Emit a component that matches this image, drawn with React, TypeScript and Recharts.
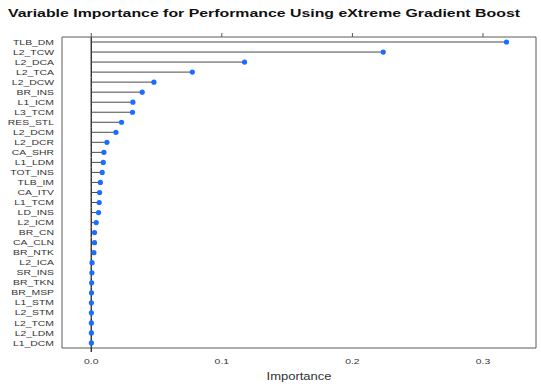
import React from 'react';
import { ComposedChart, Bar, XAxis, YAxis } from 'recharts';

// variable names, top to bottom
const variables = [
    'TLB_DM', 'L2_TCW', 'L2_DCA', 'L2_TCA', 'L2_DCW', 'BR_INS', 'L1_ICM', 'L3_TCM',
    'RES_STL', 'L2_DCM', 'L2_DCR', 'CA_SHR', 'L1_LDM', 'TOT_INS', 'TLB_IM', 'CA_ITV',
    'L1_TCM', 'LD_INS', 'L2_ICM', 'BR_CN', 'CA_CLN', 'BR_NTK', 'L2_ICA', 'SR_INS',
    'BR_TKN', 'BR_MSP', 'L1_STM', 'L2_STM', 'L2_TCM', 'L2_LDM', 'L1_DCM',
];

const importance = [
    0.318, 0.2236, 0.1174, 0.0774, 0.048, 0.039, 0.0319, 0.0316,
    0.0232, 0.0189, 0.012, 0.0097, 0.0092, 0.0084, 0.007, 0.0064,
    0.0061, 0.0056, 0.0038, 0.0025, 0.0025, 0.002, 0.0006, 0.0005,
    0.0003, 0.0002, 0.0001, 0.0001, 0.0001, 0.0001, 0.0001,
];

const xTicks = [0, 0.1, 0.2, 0.3];

const data = variables.map((name, i) => ({ name, value: importance[i] }));

const FONT = '"Liberation Sans", Arial, Helvetica, sans-serif';
const FRAME = '#5a5a5a';
const DOT = '#1a6dff';

// bar fills the whole band: zero-line piece, segment, then the dot on top
const Lollipop = (props: any) => {
    const { x, y, width, height } = props;
    const cy = y + height / 2;
    return (
        <g>
            <line x1={x} y1={y} x2={x} y2={y + height} stroke="#222" strokeWidth={1.3} />
            <line x1={x} y1={cy} x2={x + width} y2={cy} stroke="#4a4a4a" strokeWidth={1} />
            <circle cx={x + width} cy={cy} r={2.6} fill={DOT} />
        </g>
    );
};

const NameTick = (props: any) => {
    const { x, y, payload } = props;
    return (
        <text
            transform={`translate(${x},${y}) scale(1.3,1)`}
            textAnchor="end"
            dominantBaseline="central"
            fontSize={8}
            fontFamily={FONT}
            fill="#333"
        >
            {payload.value}
        </text>
    );
};

const ValueTick = (props: any) => {
    const { x, y, payload } = props;
    return (
        <g>
            {payload.value === 0 && <line x1={x} y1={y} x2={x} y2={y + 4} stroke="#222" strokeWidth={1.3} />}
            <text
                transform={`translate(${x},${y + 16}) scale(1.3,1)`}
                textAnchor="middle"
                fontSize={8}
                fontFamily={FONT}
                fill="#333"
            >
                {payload.value.toFixed(1)}
            </text>
        </g>
    );
};

const AxisTitle = (props: any) => {
    const { viewBox } = props;
    const cx = viewBox.x + viewBox.width / 2;
    return (
        <text
            transform={`translate(${cx},380) scale(1.3,1)`}
            textAnchor="middle"
            fontSize={10}
            fontFamily={FONT}
            fill="#333"
        >
            Importance
        </text>
    );
};

export default function App() {
    return (
        <div style={{ position: 'absolute', left: 0, top: 0, width: 541, height: 386, background: '#fff' }}>
            <svg width={541} height={30} style={{ position: 'absolute', left: 0, top: 0 }}>
                <text
                    x={8}
                    y={17}
                    fontSize={11}
                    fontWeight="bold"
                    fontFamily={FONT}
                    fill="#111"
                    textLength={512}
                    lengthAdjust="spacingAndGlyphs"
                >
                    Variable Importance for Performance Using eXtreme Gradient Boost
                </text>
            </svg>
            <ComposedChart
                width={541}
                height={386}
                data={data}
                layout="vertical"
                barCategoryGap={0}
                margin={{ top: 36, right: 4, bottom: 0, left: 0 }}
            >
                <XAxis
                    type="number"
                    domain={[-0.0224, 0.3406]}
                    ticks={xTicks}
                    allowDataOverflow
                    height={38}
                    axisLine={{ stroke: FRAME }}
                    tickLine={false}
                    tickSize={0}
                    tickMargin={0}
                    tick={<ValueTick />}
                    label={<AxisTitle />}
                />
                <XAxis
                    xAxisId="top"
                    orientation="top"
                    type="number"
                    domain={[-0.0224, 0.3406]}
                    ticks={xTicks}
                    allowDataOverflow
                    height={1}
                    axisLine={{ stroke: FRAME }}
                    tickLine={{ stroke: FRAME }}
                    tickSize={4}
                    tick={() => <g />}
                />
                <YAxis
                    type="category"
                    dataKey="name"
                    width={62}
                    interval={0}
                    axisLine={{ stroke: FRAME }}
                    tickLine={false}
                    tickSize={6}
                    tickMargin={2}
                    tick={<NameTick />}
                />
                <YAxis
                    yAxisId="right"
                    orientation="right"
                    type="category"
                    dataKey="name"
                    width={1}
                    axisLine={{ stroke: FRAME }}
                    tickLine={false}
                    tick={false}
                />
                <Bar dataKey="value" shape={<Lollipop />} isAnimationActive={false} />
            </ComposedChart>
        </div>
    );
}
